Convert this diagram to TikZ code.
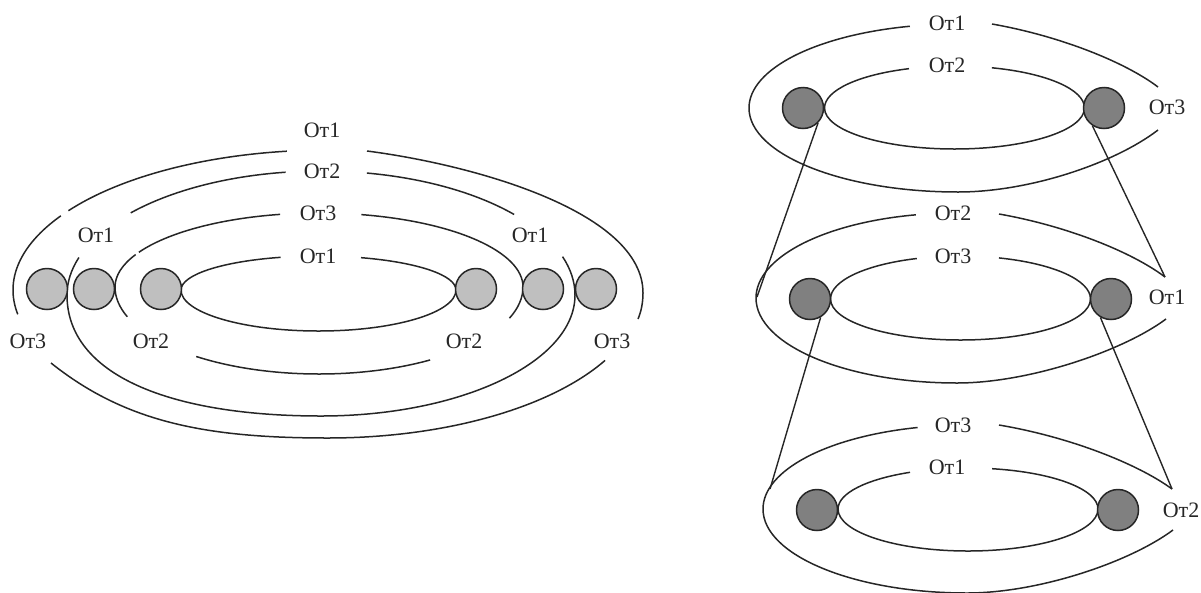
\documentclass[tikz,border=0pt]{standalone}
\usepackage{fontspec}
\setmainfont{Liberation Serif}
\usetikzlibrary{positioning}
\tikzset{
    %Define style for labels
    tag/.style={
           rectangle,
           inner sep=0pt,
           minimum height=24pt,
           font=\fontsize{22}{24}\selectfont,
           text=black!85},
    %Define style for balls
    ball/.style={
           circle,
           draw=black!85,
           line width=1.5pt,
           inner sep=0pt,
           minimum size=41pt},
    paleball/.style={ball, fill=black!25},
    darkball/.style={ball, fill=black!50},
    % Define line styles
    ring/.style={
           line width=1.5pt,
           draw=black!85},
    link/.style={
           line width=1.4pt,
           draw=black!85},
}
% centre x, centre y, x radius, y radius, start, end
\newcommand{\ringarc}[6]{\draw[ring] (#1,#2) ++(#5:#3 and #4) arc[start angle=#5, end angle=#6, x radius=#3, y radius=#4];}

\begin{document}
\begin{tikzpicture}[x=1pt, y=-1pt]
 \useasboundingbox (0,0) rectangle (1201,592);
 %left rings
 \ringarc{318.5}{290}{137.5}{34}{180}{254}
 \ringarc{318.5}{290}{137.5}{34}{288}{360}
 \ringarc{318.5}{290}{137.5}{41}{0}{180}
 \ringarc{319}{287}{204}{87}{160}{180}
 \ringarc{319}{287}{204}{74}{180}{206}
 \ringarc{319}{287}{204}{74}{208}{259}
 \ringarc{319}{287}{204}{74}{282}{360}
 \ringarc{319}{287}{204}{87}{0}{21}
 \ringarc{319}{287}{204}{87}{57}{127}
 \ringarc{321}{295}{254}{124}{221.5}{262}
 \ringarc{321}{295}{254}{124}{280.4}{319.5}
 \ringarc{321}{295}{254}{124}{180}{197.6}
 \ringarc{321}{295}{254}{124}{342}{360}
 \ringarc{321}{295}{254}{121}{0}{90}
 \draw[ring] (67,295) .. controls (67,375) and (170,416) .. (321,416);
 \ringarc{328}{290}{315}{140}{170}{212}
 \ringarc{328}{290}{315}{140}{214.5}{262.5}
 \draw[ring] (367,151) .. controls (475,165) and (643,212) .. (643,293) .. controls (643,303) and (641,312) .. (638,319);
 \draw[ring] (51,363) .. controls (125,422) and (205,438) .. (328,438);
 \ringarc{328}{290}{315}{148}{28.4}{90}
 %right rings, top
 \ringarc{954.5}{108}{130}{42}{180}{249.5}
 \ringarc{954.5}{108}{130}{42}{286.7}{360}
 \ringarc{954.5}{108}{130}{41}{0}{180}
 \ringarc{958}{108}{209}{84}{90}{256.7}
 \draw[ring] (992,24) .. controls (1060,36) and (1125,62) .. (1158,87);
 \draw[ring] (958,192) .. controls (1030,192) and (1115,163) .. (1158,130);
 %right rings, middle
 \ringarc{960.5}{299}{130}{43}{180}{250.4}
 \ringarc{960.5}{299}{130}{43}{287.2}{360}
 \ringarc{960.5}{299}{130}{41}{0}{180}
 \ringarc{957}{298}{201}{85}{90}{258.2}
 \draw[ring] (999,214) .. controls (1067,226) and (1132,252) .. (1165,277);
 \draw[ring] (957,383) .. controls (1029,383) and (1123,351) .. (1166,319);
 %right rings, bottom
 \ringarc{968}{509}{130}{41}{180}{243.5}
 \ringarc{968}{509}{130}{41}{280.7}{360}
 \ringarc{968}{509}{130}{42}{0}{180}
 \ringarc{967}{509}{204}{84}{90}{256}
 \draw[ring] (999,425) .. controls (1070,437) and (1138,464) .. (1172,489);
 \draw[ring] (967,593) .. controls (1039,593) and (1130,562) .. (1173,530);
 %nodes
 \node[paleball] (la) at (47,289) {};
 \node[paleball, right=4.5pt of la] (lb) {};
 \node[paleball, right=24.5pt of lb] (lc) {};
 \node[paleball] (ld) at (476,289) {};
 \node[paleball, right=24.5pt of ld] (le) {};
 \node[paleball, right=10.5pt of le] (lf) {};
 \node[darkball] (topleft) at (803,108) {};
 \node[darkball] (topright) at (1104,108) {};
 \node[darkball] (midleft) at (810,299) {};
 \node[darkball] (midright) at (1111,299) {};
 \node[darkball] (lowleft) at (817,510) {};
 \node[darkball] (lowright) at (1118,510) {};
 %labels
 \node[tag] (lone) at (322,130) {От1};
 \node[tag, below=17pt of lone] (ltwo) {От2};
 \node[tag] (lthree) at (318,213) {От3};
 \node[tag, below=19pt of lthree] (lfour) {От1};
 \node[tag] (lfive) at (96,235) {От1};
 \node[tag] (lsix) at (530,235) {От1};
 \node[tag] (lseven) at (28,341) {От3};
 \node[tag] (leight) at (151,341) {От2};
 \node[tag] (lnine) at (464,341) {От2};
 \node[tag] (lten) at (612,341) {От3};
 \node[tag] (tone) at (947,23) {От1};
 \node[tag, below=18pt of tone] (ttwo) {От2};
 \node[tag] (tthree) at (1167,107) {От3};
 \node[tag] (mone) at (953,213) {От2};
 \node[tag, below=19pt of mone] (mtwo) {От3};
 \node[tag] (mthree) at (1167,297) {От1};
 \node[tag] (bone) at (953,425) {От3};
 \node[tag] (btwo) at (947,467) {От1};
 \node[tag] (bthree) at (1181,510) {От2};
 %edges
 \coordinate (midend) at (757,297);
 \coordinate (midtip) at (1165,277);
 \coordinate (lowend) at (770,489);
 \coordinate (lowtip) at (1172,489);
 \draw[link] (topleft.-45) -- (midend);
 \draw[link] (topright.-123) -- (midtip);
 \draw[link] (midleft.-60) -- (lowend);
 \draw[link] (midright.-120) -- (lowtip);
\end{tikzpicture}
\end{document}
